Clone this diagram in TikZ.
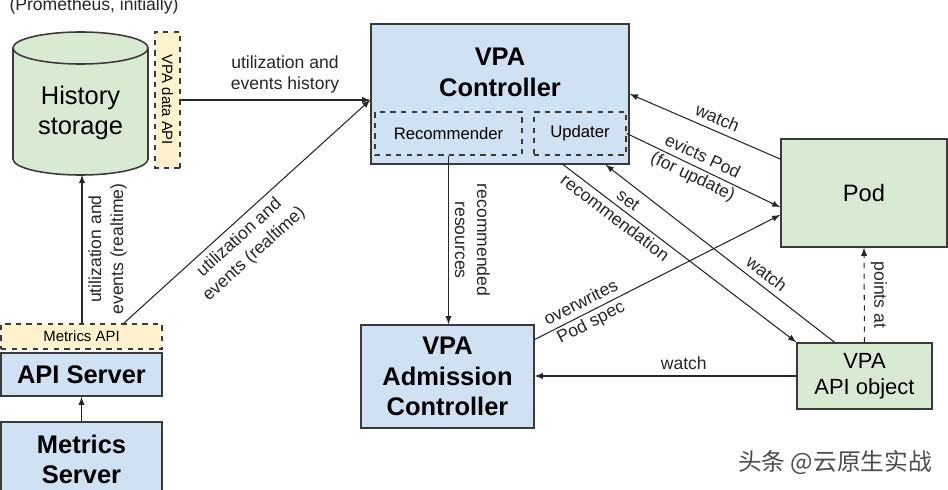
\documentclass[tikz,border=0pt]{standalone}
\usepackage{fontspec}
\setmainfont{Liberation Sans}
\newfontfamily\cjk{Noto Sans CJK SC}
\usepackage{xcolor}
\usetikzlibrary{arrows,calc,positioning,shapes}
\definecolor{vpablue}{HTML}{CFE2F3}
\definecolor{podgreen}{HTML}{D9EAD3}
\definecolor{apiyellow}{HTML}{FFF2CC}
\definecolor{edgegray}{HTML}{3A3A3A}
\tikzset{%
	bluebox/.style  = {draw=edgegray, line width=0.9pt, fill=vpablue, rectangle, text centered, align=center, font=\fontsize{14.5}{17.5}\selectfont\bfseries},
	greenbox/.style = {draw=edgegray, line width=0.9pt, fill=podgreen, rectangle, text centered, align=center},
	apibox/.style   = {draw=edgegray, dashed, line width=0.9pt, fill=apiyellow, rectangle, text centered, font=\fontsize{8.5}{10}\selectfont},
	partbox/.style  = {draw=edgegray, dashed, line width=0.9pt, rectangle, text centered, font=\fontsize{9.5}{11.5}\selectfont},
	lbl/.style      = {align=center, font=\fontsize{10}{12.5}\selectfont, text=black!85},
	arrow/.style    = {line width=0.6pt, draw=black!85, -latex},
}
\begin{document}
\begin{tikzpicture}[x=0.02cm,y=-0.02cm]
	\useasboundingbox (0,0) rectangle (948,490);
	% history storage
	\draw[draw=edgegray, line width=0.9pt, fill=podgreen] (13,48) -- (13,159) arc[start angle=180, end angle=0, x radius=67.5, y radius=16] -- (148,48);
	\draw[draw=edgegray, line width=0.9pt, fill=podgreen] (80.5,48) ellipse [x radius=67.5, y radius=16];
	\node[align=center, font=\fontsize{14.5}{17.5}\selectfont] (hist) at (80.5,113) {History\\storage};
	\node[lbl] (prom) at (94,6) {(Prometheus, initially)};
	\node[apibox, rotate=-90, minimum width=2.72cm, minimum height=0.5cm, inner sep=0pt] (dataapi) at (167.5,100) {VPA data API};
	\coordinate (histbot) at (82,175);
	% vpa controller
	\node[bluebox, minimum width=5.16cm, minimum height=2.8cm] (ctrl) at (500,94) {};
	\node[align=center, font=\fontsize{14.5}{17.5}\selectfont\bfseries] (ctrltxt) at (500,72) {VPA\\Controller};
	\node[partbox, minimum width=2.94cm, minimum height=0.86cm] (rec) at (448.5,133.5) {Recommender};
	\node[partbox, minimum width=1.84cm, minimum height=0.86cm] (upd) at (580,133.5) {Updater};
	\coordinate (ctrlin) at ([yshift=-3.4pt]ctrl.west);
	% other boxes
	\node[bluebox, minimum width=3.46cm, minimum height=2.06cm] (adm) at (447.5,376.5) {VPA\\Admission\\Controller};
	\node[greenbox, minimum width=3.32cm, minimum height=2.16cm, font=\fontsize{13.5}{16}\selectfont] (pod) at (864,193) {Pod};
	\node[greenbox, minimum width=2.7cm, minimum height=1.32cm, font=\fontsize{12.5}{15}\selectfont] (apiobj) at (864.5,376) {VPA\\API object};
	\node[apibox, minimum width=3.22cm, minimum height=0.5cm] (metapi) at (81.5,336.5) {Metrics API};
	\node[bluebox, minimum width=3.22cm, minimum height=0.86cm] (apisrv) at (81.5,374.5) {API Server};
	\node[bluebox, minimum width=3.22cm, minimum height=1.5cm] (metsrv) at (81.5,459.5) {Metrics\\Server};
	% connectors
	\draw[arrow] (dataapi.north) -- (dataapi.north -| ctrl.west) node[lbl, above, pos=0.55] {utilization and\\events history};
	\draw[arrow] (metapi.north -| histbot) -- (histbot) node[lbl, midway, rotate=90, anchor=north] {utilization and\\events (realtime)};
	\draw[arrow] ($(metapi.north west)!0.76!(metapi.north east)$) -- (ctrlin) node[lbl, sloped, below, pos=0.43] {utilization and\\events (realtime)};
	\draw[arrow] (metsrv.north) -- (apisrv.south);
	\draw[arrow] (rec.south) -- (rec.south |- adm.north) node[lbl, midway, rotate=-90, anchor=south] {recommended\\resources};
	\draw[arrow] ($(pod.north west)!0.19!(pod.south west)$) -- (ctrl.east) node[lbl, sloped, above, pos=0.45] {watch};
	\draw[arrow] (upd.east) -- ($(pod.north west)!0.63!(pod.south west)$) node[lbl, sloped, pos=0.46] {evicts Pod\\(for update)};
	\draw[arrow] ($(adm.north east)!0.146!(adm.south east)$) -- ($(pod.north west)!0.7!(pod.south west)$) node[lbl, sloped, pos=0.21] {overwrites\\Pod spec};
	\draw[arrow] ($(ctrl.south west)!0.744!(ctrl.south east)$) -- (apiobj.north west) node[lbl, sloped, pos=0.25] {set\\recommendation};
	\draw[arrow] ($(apiobj.north west)!0.28!(apiobj.north east)$) -- ($(ctrl.south west)!0.907!(ctrl.south east)$) node[lbl, sloped, above, pos=0.33] {watch};
	\draw[arrow, dashed] (apiobj.north) -- (pod.south) node[lbl, midway, rotate=-90, anchor=south] {points at};
	\draw[arrow] (apiobj.west) -- (apiobj.west -| adm.east) node[lbl, above, pos=0.43] {watch};
	% watermark
	\node[font=\cjk\fontsize{13.5}{16}\selectfont, text=black!70] (mark) at (835,463) {头条 @云原生实战};
\end{tikzpicture}
\end{document}
